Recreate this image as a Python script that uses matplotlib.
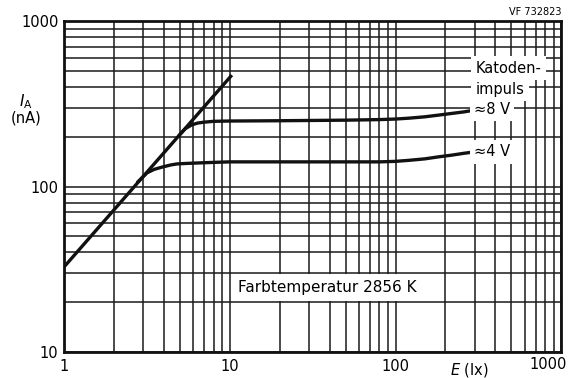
import matplotlib.pyplot as plt
from matplotlib.ticker import LogLocator, NullFormatter, FixedLocator

# data
line_e = [1, 10.3]
line_i = [32.6, 472]

v8_e = [5.0, 5.4, 5.9, 6.4, 7, 8, 10, 20, 50, 80, 100, 120, 150, 180, 220, 260, 300]
v8_i = [206, 224, 236, 242, 245, 248, 249, 250, 252, 254, 256, 259, 264, 270, 277, 283, 290]

v4_e = [2.8, 3.17, 3.5, 3.9, 4.4, 4.8, 5.5, 6.6, 8, 10, 20, 50, 80, 100, 120, 150, 180, 220, 260, 300]
v4_i = [107, 121, 127, 131, 135, 137, 138, 139, 140, 141, 141, 141, 141, 142, 144, 147, 151, 155, 159, 162]

x_ticks = [1, 10, 100, 1000]
x_labels = ["1", "10", "100", "1000"]
y_ticks = [10, 100, 1000]
y_labels = ["10", "100", "1000"]

plt.rcParams["font.family"] = "DejaVu Sans"

fig = plt.figure(figsize=(5.71, 3.78), dpi=100)
ax = fig.add_axes([0.112, 0.069, 0.871, 0.875])
ax.set_xscale("log")
ax.set_yscale("log")
ax.set_xlim(1, 1000)
ax.set_ylim(10, 1000)

# grid on every step of each decade
ax.xaxis.set_major_locator(FixedLocator(x_ticks))
ax.yaxis.set_major_locator(FixedLocator(y_ticks))
ax.xaxis.set_minor_locator(LogLocator(base=10, subs=range(2, 10)))
ax.yaxis.set_minor_locator(LogLocator(base=10, subs=range(2, 10)))
ax.xaxis.set_minor_formatter(NullFormatter())
ax.yaxis.set_minor_formatter(NullFormatter())
ax.grid(True, which="both", color="#1a1a1a", linewidth=1.1)
ax.set_axisbelow(True)
ax.tick_params(which="both", length=0)
ax.set_xticklabels(x_labels[:-1] + [""], fontsize=10.5)
ax.set_yticklabels(y_labels, fontsize=10.5)
ax.tick_params(axis="x", pad=5)
ax.tick_params(axis="y", pad=4)
# last x label sits flush with the right edge
ax.annotate(x_labels[-1], xy=(1, 0), xycoords="axes fraction", xytext=(6, -5),
            textcoords="offset pixels", ha="right", va="top", fontsize=10.5)

for s in ax.spines.values():
    s.set_linewidth(2)
    s.set_color("#111111")

ax.plot(line_e, line_i, color="#111111", linewidth=2.4, solid_capstyle="butt", zorder=3)
ax.plot(v8_e, v8_i, color="#111111", linewidth=2.4, zorder=3)
ax.plot(v4_e, v4_i, color="#111111", linewidth=2.4, zorder=3)

box = dict(facecolor="white", edgecolor="none", pad=3.5)
ax.text(305, 520, "Katoden-", fontsize=10.5, va="center", ha="left", bbox=box, zorder=5)
ax.text(305, 388, "impuls", fontsize=10.5, va="center", ha="left", bbox=box, zorder=6)
ax.text(298, 292, "≈8 V", fontsize=10.5, va="center", ha="left",
        bbox=dict(facecolor="white", edgecolor="none", pad=3), zorder=5)
ax.text(298, 162, "≈4 V", fontsize=10.5, va="center", ha="left",
        bbox=dict(facecolor="white", edgecolor="none", pad=3), zorder=5)
ax.text(11.2, 24.5, "Farbtemperatur 2856 K  ", fontsize=11, va="center", ha="left",
        bbox=dict(facecolor="white", edgecolor="none", pad=4.5), zorder=5)

fig.text(0.983, 0.968, "VF 732823", fontsize=7, ha="right", va="center")
fig.text(0.045, 0.732, "$I_{\\mathrm{A}}$", fontsize=11, ha="center", va="center")
fig.text(0.045, 0.688, "(nA)", fontsize=10.5, ha="center", va="center")
fig.text(0.822, 0.022, "$E$ (lx)", fontsize=10.5, ha="center", va="center")

fig.savefig("out.png", dpi=100, facecolor="white")
